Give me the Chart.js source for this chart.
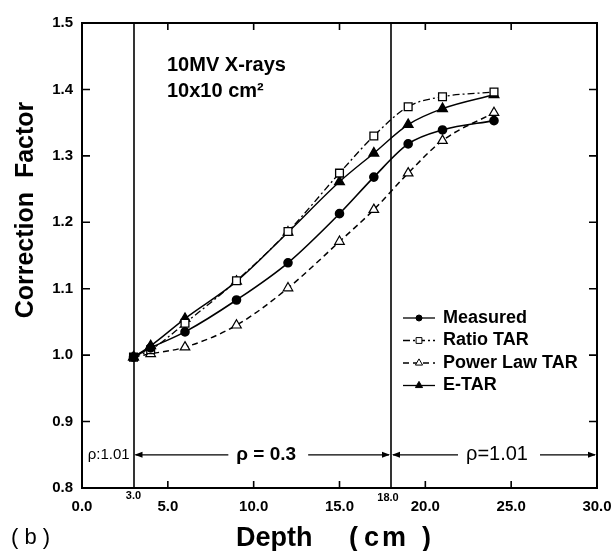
<!DOCTYPE html>
<html>
<head>
<meta charset="utf-8">
<script src="https://cdn.jsdelivr.net/npm/chart.js@4"></script>
<style>
  html, body { margin: 0; padding: 0; background: #fff; }
  #wrap { width: 613px; height: 551px; }
</style>
</head>
<body>
<div id="wrap"><canvas id="chart"></canvas></div>
<script>
// depth of the measuring points (cm)
const depth = [3, 4, 6, 9, 12, 15, 17, 19, 21, 24];
const measured    = [0.997, 1.011, 1.035, 1.083, 1.139, 1.213, 1.268, 1.318, 1.339, 1.353];
const ratioTar    = [0.997, 1.008, 1.048, 1.112, 1.186, 1.274, 1.330, 1.374, 1.389, 1.396];
const powerLawTar = [0.997, 1.002, 1.012, 1.045, 1.101, 1.171, 1.219, 1.274, 1.323, 1.365];
const eTar        = [0.997, 1.014, 1.055, 1.111, 1.185, 1.261, 1.304, 1.347, 1.371, 1.392];

// slab boundaries and their densities
const regionEdges = [0, 3, 18, 30];
const regionLabels = ['ρ:1.01', 'ρ = 0.3', 'ρ=1.01'];
const edgeLabels = ['3.0', '18.0'];
const arrowRowY = 0.850;

const FONT = "'Liberation Sans', Arial, Helvetica, sans-serif";
const toPts = ys => depth.map((d, i) => ({x: d, y: ys[i]}));

const frame = {
    id: 'frame',
    afterDatasetsDraw(chart) {
        const {ctx, chartArea: a, scales: {x, y}} = chart;
        ctx.save();
        ctx.strokeStyle = '#000';

        // slab boundaries
        ctx.lineWidth = 1.6;
        [regionEdges[1], regionEdges[2]].forEach(v => {
            const px = Math.round(x.getPixelForValue(v));
            ctx.beginPath();
            ctx.moveTo(px, a.top);
            ctx.lineTo(px, a.bottom);
            ctx.stroke();
        });

        // box
        ctx.lineWidth = 2;
        ctx.strokeRect(a.left, a.top, a.right - a.left, a.bottom - a.top);

        // inward ticks
        ctx.lineWidth = 1.6;
        x.ticks.forEach(t => {
            const px = x.getPixelForValue(t.value);
            if (px <= a.left + 1 || px >= a.right - 1) return;
            ctx.beginPath();
            ctx.moveTo(px, a.bottom); ctx.lineTo(px, a.bottom - 7);
            ctx.moveTo(px, a.top); ctx.lineTo(px, a.top + 7);
            ctx.stroke();
        });
        y.ticks.forEach(t => {
            const py = y.getPixelForValue(t.value);
            if (py <= a.top + 1 || py >= a.bottom - 1) return;
            ctx.beginPath();
            ctx.moveTo(a.left, py); ctx.lineTo(a.left + 8, py);
            ctx.moveTo(a.right, py); ctx.lineTo(a.right - 8, py);
            ctx.stroke();
        });

        // small boundary labels under the axis
        ctx.fillStyle = '#000';
        ctx.textAlign = 'center';
        ctx.textBaseline = 'middle';
        ctx.font = 'bold 11px ' + FONT;
        ctx.fillText(edgeLabels[0], x.getPixelForValue(regionEdges[1]), a.bottom + 8);
        ctx.fillText(edgeLabels[1], x.getPixelForValue(regionEdges[2]) - 3, a.bottom + 10);

        // density labels with arrows
        const ay = y.getPixelForValue(arrowRowY);
        const head = (px, dir) => {
            ctx.beginPath();
            ctx.moveTo(px, ay);
            ctx.lineTo(px - dir * 8, ay - 3);
            ctx.lineTo(px - dir * 8, ay + 3);
            ctx.closePath();
            ctx.fill();
        };
        ctx.lineWidth = 1.2;
        ctx.font = '15px ' + FONT;
        ctx.fillText(regionLabels[0], (x.getPixelForValue(regionEdges[0]) + x.getPixelForValue(regionEdges[1])) / 2 + 1, ay);
        [1, 2].forEach(i => {
            const l = x.getPixelForValue(regionEdges[i]);
            const r = x.getPixelForValue(regionEdges[i + 1]);
            const c = (l + r) / 2 + (i === 1 ? 4 : 3);
            ctx.font = (i === 1 ? 'bold 19px ' : '20px ') + FONT;
            const w = ctx.measureText(regionLabels[i]).width;
            ctx.fillText(regionLabels[i], c, ay);
            ctx.beginPath();
            ctx.moveTo(l + 2, ay); ctx.lineTo(c - w / 2 - 8, ay);
            ctx.moveTo(c + w / 2 + 12, ay); ctx.lineTo(r - 2, ay);
            ctx.stroke();
            head(l + 1, -1);
            head(r - 1, 1);
        });

        // beam info
        ctx.textAlign = 'left';
        ctx.textBaseline = 'alphabetic';
        ctx.font = 'bold 20px ' + FONT;
        ctx.fillText('10MV X-rays', a.left + 85, a.top + 48);
        ctx.fillText('10x10 cm²', a.left + 85, a.top + 74);

        // legend inside the plot
        const ds = chart.data.datasets;
        ctx.font = 'bold 18px ' + FONT;
        ds.forEach((d, i) => {
            const ly = 318 + i * 22.5;
            const lx = 403;
            ctx.save();
            ctx.lineWidth = 1.3;
            ctx.setLineDash(d.borderDash || []);
            ctx.beginPath();
            ctx.moveTo(lx, ly); ctx.lineTo(lx + 32, ly);
            ctx.stroke();
            ctx.restore();
            ctx.save();
            ctx.fillStyle = d.pointBackgroundColor;
            ctx.strokeStyle = '#000';
            ctx.lineWidth = 1;
            Chart.helpers.drawPoint(ctx, {pointStyle: d.pointStyle, radius: d.pointRadius * 0.75, borderWidth: 1}, lx + 16, ly);
            ctx.restore();
            ctx.fillStyle = '#000';
            ctx.textBaseline = 'middle';
            ctx.fillText(d.label, lx + 40, ly);
        });

        // axis titles and panel tag
        ctx.textBaseline = 'alphabetic';
        ctx.font = 'bold 27px ' + FONT;
        ctx.fillText('Depth', 236, 546);
        ctx.fillText('(', 349, 546);
        ctx.save();
        ctx.letterSpacing = '3px';
        ctx.fillText('cm', 364, 546);
        ctx.restore();
        ctx.fillText(')', 422, 546);
        ctx.save();
        ctx.textAlign = 'center';
        ctx.translate(33, 210);
        ctx.rotate(-Math.PI / 2);
        ctx.font = 'bold 25px ' + FONT;
        ctx.fillText('Correction  Factor', 0, 0);
        ctx.restore();
        ctx.font = '22px ' + FONT;
        ctx.fillText('( b )', 11, 544);
        ctx.restore();
    }
};

new Chart(document.getElementById('chart'), {
    type: 'line',
    data: {
        datasets: [{
            label: 'Measured',
            data: toPts(measured),
            borderColor: '#000',
            borderWidth: 1.6,
            pointStyle: 'circle',
            pointRadius: 4,
            pointBackgroundColor: '#000',
            pointBorderColor: '#000'
        }, {
            label: 'Ratio TAR',
            data: toPts(ratioTar),
            borderColor: '#000',
            borderWidth: 1.3,
            borderDash: [7, 3, 2, 3],
            pointStyle: 'rect',
            pointRadius: 5.5,
            pointBackgroundColor: '#fff',
            pointBorderColor: '#000',
            pointBorderWidth: 1.3
        }, {
            label: 'Power Law TAR',
            data: toPts(powerLawTar),
            borderColor: '#000',
            borderWidth: 1.5,
            borderDash: [6, 4],
            pointStyle: 'triangle',
            pointRadius: 5.5,
            pointBackgroundColor: '#fff',
            pointBorderColor: '#000',
            pointBorderWidth: 1.2
        }, {
            label: 'E-TAR',
            data: toPts(eTar),
            borderColor: '#000',
            borderWidth: 1.4,
            pointStyle: 'triangle',
            pointRadius: 5.5,
            pointBackgroundColor: '#000',
            pointBorderColor: '#000'
        }]
    },
    options: {
        responsive: true,
        maintainAspectRatio: false,
        animation: false,
        layout: {padding: {left: 0, right: 0, top: 23, bottom: 0}},
        elements: {line: {cubicInterpolationMode: 'monotone', fill: false}},
        plugins: {legend: {display: false}, tooltip: {enabled: false}},
        scales: {
            x: {
                type: 'linear',
                min: 0, max: 30,
                grid: {display: false, drawTicks: false},
                border: {display: false},
                ticks: {
                    stepSize: 5,
                    padding: 10,
                    color: '#000',
                    font: {family: FONT, size: 15, weight: 'bold'},
                    callback: v => v.toFixed(1)
                },
                afterFit: s => { s.height = 63; s.paddingRight = 16; }
            },
            y: {
                min: 0.8, max: 1.5,
                grid: {display: false, drawTicks: false},
                border: {display: false},
                ticks: {
                    stepSize: 0.1,
                    padding: 9,
                    color: '#000',
                    font: {family: FONT, size: 15, weight: 'bold'},
                    callback: v => v.toFixed(1)
                },
                afterFit: s => { s.width = 82; }
            }
        }
    },
    plugins: [frame]
});
</script>
</body>
</html>
